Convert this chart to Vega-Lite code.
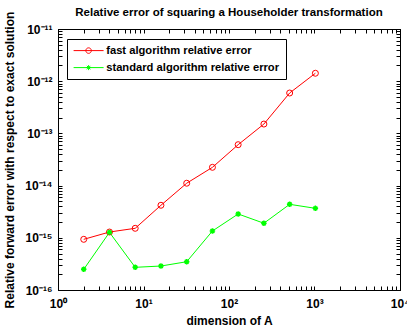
{
  "$schema": "https://vega.github.io/schema/vega-lite/v6.json",
  "width": 342,
  "height": 261,
  "autosize": {"type": "none"},
  "padding": {"left": 58, "top": 29, "right": 7, "bottom": 43},
  "background": "white",
  "title": {"text": "Relative error of squaring a Householder transformation", "fontSize": 11.5, "fontWeight": "bold", "font": "Liberation Sans", "anchor": "middle", "offset": 10, "dy": 17, "color": "black"},
  "config": {
    "view": {"stroke": "black", "strokeWidth": 1},
    "axis": {"labelFont": "Liberation Sans", "labelFontSize": 12, "labelFontWeight": "bold", "labelColor": "black", "titleFont": "Liberation Sans", "titleFontSize": 12, "titleFontWeight": "bold", "titleColor": "black", "domainColor": "black", "tickColor": "black", "grid": false, "labelOverlap": false, "labelFlush": false, "labelBound": false, "tickSize": -4}
  },
  "data": {"values": [
    {"n": 2, "err": 9.35e-16, "series": "fast algorithm relative error"},
    {"n": 4, "err": 1.29e-15, "series": "fast algorithm relative error"},
    {"n": 8, "err": 1.52e-15, "series": "fast algorithm relative error"},
    {"n": 16, "err": 4.2e-15, "series": "fast algorithm relative error"},
    {"n": 32, "err": 1.11e-14, "series": "fast algorithm relative error"},
    {"n": 64, "err": 2.24e-14, "series": "fast algorithm relative error"},
    {"n": 128, "err": 6.08e-14, "series": "fast algorithm relative error"},
    {"n": 256, "err": 1.51e-13, "series": "fast algorithm relative error"},
    {"n": 512, "err": 5.94e-13, "series": "fast algorithm relative error"},
    {"n": 1024, "err": 1.42e-12, "series": "fast algorithm relative error"},
    {"n": 2, "err": 2.49e-16, "series": "standard algorithm relative error"},
    {"n": 4, "err": 1.27e-15, "series": "standard algorithm relative error"},
    {"n": 8, "err": 2.72e-16, "series": "standard algorithm relative error"},
    {"n": 16, "err": 2.88e-16, "series": "standard algorithm relative error"},
    {"n": 32, "err": 3.48e-16, "series": "standard algorithm relative error"},
    {"n": 64, "err": 1.35e-15, "series": "standard algorithm relative error"},
    {"n": 128, "err": 2.86e-15, "series": "standard algorithm relative error"},
    {"n": 256, "err": 1.9e-15, "series": "standard algorithm relative error"},
    {"n": 512, "err": 4.38e-15, "series": "standard algorithm relative error"},
    {"n": 1024, "err": 3.67e-15, "series": "standard algorithm relative error"}
  ]},
  "layer": [
    {
      "mark": {"type": "line", "strokeWidth": 1, "clip": true},
      "encoding": {
        "x": {"field": "n", "type": "quantitative", "scale": {"type": "log", "domain": [1, 10000], "nice": false},
          "axis": {"orient": "bottom", "title": "dimension of A", "titlePadding": 6, "labelPadding": 12,
            "values": [1,2,3,4,5,6,7,8,9,10,20,30,40,50,60,70,80,90,100,200,300,400,500,600,700,800,900,1000,2000,3000,4000,5000,6000,7000,8000,9000,10000],
            "labelExpr": "datum.value == 1 ? '10⁰' : datum.value == 10 ? '10¹' : datum.value == 100 ? '10²' : datum.value == 1000 ? '10³' : datum.value == 10000 ? '10⁴' : ''"}},
        "y": {"field": "err", "type": "quantitative", "scale": {"type": "log", "domain": [1e-16, 1e-11], "nice": false},
          "axis": {"orient": "left", "title": "Relative forward error with respect to exact solution", "titlePadding": 8, "labelPadding": 10,
            "values": [1e-16,2e-16,3e-16,4e-16,5e-16,6e-16,7e-16,8e-16,9e-16,1e-15,2e-15,3e-15,4e-15,5e-15,6e-15,7e-15,8e-15,9e-15,1e-14,2e-14,3e-14,4e-14,5e-14,6e-14,7e-14,8e-14,9e-14,1e-13,2e-13,3e-13,4e-13,5e-13,6e-13,7e-13,8e-13,9e-13,1e-12,2e-12,3e-12,4e-12,5e-12,6e-12,7e-12,8e-12,9e-12,1e-11],
            "labelExpr": "datum.value == 1e-16 ? '10⁻¹⁶' : datum.value == 1e-15 ? '10⁻¹⁵' : datum.value == 1e-14 ? '10⁻¹⁴' : datum.value == 1e-13 ? '10⁻¹³' : datum.value == 1e-12 ? '10⁻¹²' : datum.value == 1e-11 ? '10⁻¹¹' : ''"}},
        "color": {"field": "series", "type": "nominal",
          "scale": {"domain": ["fast algorithm relative error", "standard algorithm relative error"], "range": ["#ff0000", "#00ff00"]},
          "legend": {"orient": "none", "legendX": 9, "legendY": 10, "title": null, "strokeColor": "black", "fillColor": "white", "padding": 6,
            "labelFont": "Liberation Sans", "labelFontSize": 11.2, "labelFontWeight": "bold", "labelColor": "black", "labelLimit": 400, "symbolSize": 100, "rowPadding": 5, "labelOffset": 22,
            "encode": {"symbols": {"update": {
              "shape": {"signal": "datum.value === 'fast algorithm relative error' ? 'M-1,0H5M2.55,0A0.55,0.55,0,1,1,1.45,0A0.55,0.55,0,1,1,2.55,0' : 'M-1,0H5M1.5,0H2.5M2,-0.5V0.5M1.65,-0.35L2.35,0.35M1.65,0.35L2.35,-0.35'"},
              "fill": {"value": "transparent"},
              "stroke": {"signal": "datum.value === 'fast algorithm relative error' ? '#ff0000' : '#00ff00'"},
              "strokeWidth": {"value": 1},
              "opacity": {"value": 1}
            }}}}}
      }
    },
    {
      "transform": [{"filter": "datum.series === 'fast algorithm relative error'"}],
      "mark": {"type": "point", "filled": false, "size": 36, "opacity": 1, "color": "#ff0000", "strokeWidth": 1, "shape": "circle"},
      "encoding": {
        "x": {"field": "n", "type": "quantitative",
          "axis": {"orient": "top", "labels": false, "title": null,
            "values": [1,2,3,4,5,6,7,8,9,10,20,30,40,50,60,70,80,90,100,200,300,400,500,600,700,800,900,1000,2000,3000,4000,5000,6000,7000,8000,9000,10000]}},
        "y": {"field": "err", "type": "quantitative",
          "axis": {"orient": "right", "labels": false, "title": null,
            "values": [1e-16,2e-16,3e-16,4e-16,5e-16,6e-16,7e-16,8e-16,9e-16,1e-15,2e-15,3e-15,4e-15,5e-15,6e-15,7e-15,8e-15,9e-15,1e-14,2e-14,3e-14,4e-14,5e-14,6e-14,7e-14,8e-14,9e-14,1e-13,2e-13,3e-13,4e-13,5e-13,6e-13,7e-13,8e-13,9e-13,1e-12,2e-12,3e-12,4e-12,5e-12,6e-12,7e-12,8e-12,9e-12,1e-11]}}
      }
    },
    {
      "transform": [{"filter": "datum.series === 'standard algorithm relative error'"}],
      "mark": {"type": "point", "filled": false, "size": 30, "opacity": 1, "color": "#00ff00", "strokeWidth": 1.5, "shape": "M-1,0H1M0,-1V1M-0.7,-0.7L0.7,0.7M-0.7,0.7L0.7,-0.7"},
      "encoding": {
        "x": {"field": "n", "type": "quantitative", "axis": null},
        "y": {"field": "err", "type": "quantitative", "axis": null}
      }
    }
  ],
  "resolve": {"axis": {"x": "independent", "y": "independent"}}
}
